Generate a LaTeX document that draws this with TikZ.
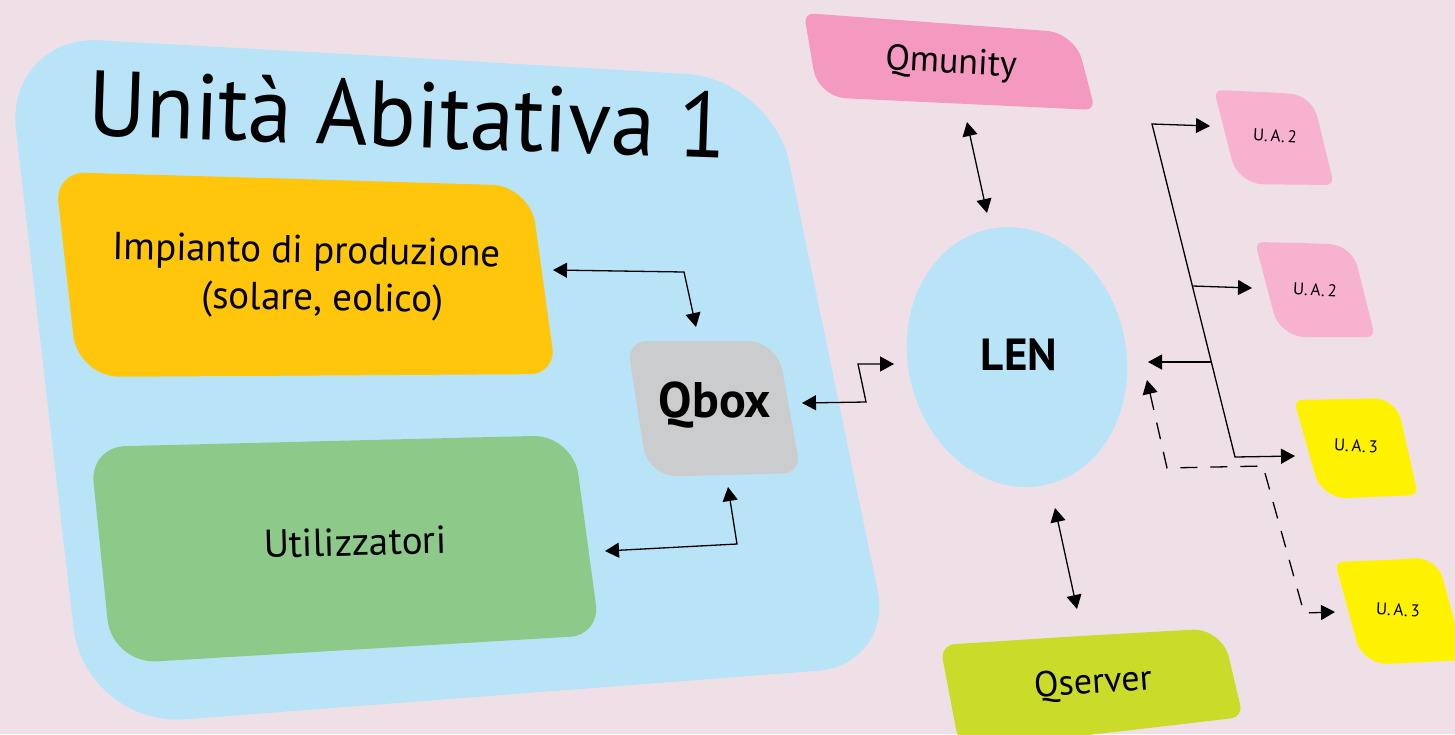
\documentclass[tikz,border=0pt]{standalone}
\usepackage{fontspec}
\setmainfont{PT Sans}
\usetikzlibrary{arrows.meta,shapes.geometric,calc}
\definecolor{bg}{RGB}{239,224,232}
\definecolor{lblue}{RGB}{185,228,247}
\definecolor{orangey}{RGB}{255,198,11}
\definecolor{greenb}{RGB}{141,202,138}
\definecolor{grayb}{RGB}{203,204,206}
\definecolor{pinkq}{RGB}{244,154,193}
\definecolor{pinkua}{RGB}{247,178,208}
\definecolor{yellowua}{RGB}{255,242,0}
\definecolor{limeq}{RGB}{203,219,42}
\begin{document}
\begin{tikzpicture}[x=1pt,y=-1pt,
  conn/.style={line width=1.3pt,{Triangle[length=14pt,width=15pt]}-{Triangle[length=14pt,width=15pt]}},
  oneway/.style={line width=1.3pt,-{Triangle[length=14pt,width=15pt]}},
  dconn/.style={conn,dash pattern=on 17pt off 13pt},
  lbl/.style={inner sep=0pt,text=black},
  ualbl/.style={lbl,font=\fontsize{17}{20}\selectfont,rotate=-3}]
\useasboundingbox (0,0) rectangle (1455,734);
\clip (0,0) rectangle (1455,734);
\fill[bg] (0,0) rectangle (1455,734);

% big box
\fill[lblue] (400,57) [rounded corners=85pt]-- (772,79) [rounded corners=75pt]-- (893,665)
  [rounded corners=100pt]-- (85,727) [rounded corners=95pt]-- (5,35) [sharp corners]-- cycle;
% yellow
\fill[orangey] (300,179) [rounded corners=38pt]-- (530,186) [rounded corners=26pt]-- (556,374)
  [rounded corners=42pt]-- (78,377) [rounded corners=30pt]-- (55,172) [sharp corners]-- cycle;
% green
\fill[greenb] (330,441) [rounded corners=40pt]-- (573,435) [rounded corners=30pt]-- (600,635)
  [rounded corners=45pt]-- (112,664) [rounded corners=35pt]-- (90,447) [sharp corners]-- cycle;
% gray
\fill[grayb] (700,341) [rounded corners=30pt]-- (777,341) [rounded corners=18pt]-- (801,473)
  [rounded corners=30pt]-- (648,477) [rounded corners=20pt]-- (627,341) [sharp corners]-- cycle;
% Qmunity
\fill[pinkq] (940,23) [rounded corners=28pt]-- (1075,33) [rounded corners=10pt]-- (1095,110)
  [rounded corners=28pt]-- (818,97) [rounded corners=10pt]-- (804,13) [sharp corners]-- cycle;
% Qserver
\fill[limeq] (1080,636) [rounded corners=30pt]-- (1222,628) [rounded corners=12pt]-- (1243,717)
  [rounded corners=20pt]-- (960,750) [rounded corners=15pt]-- (940,645) [sharp corners]-- cycle;
% U.A. boxes
\fill[pinkua] (1263,92) [rounded corners=22pt]-- (1312,95) [rounded corners=8pt]-- (1334,185)
  [rounded corners=25pt]-- (1238,184) [rounded corners=8pt]-- (1214,90) [sharp corners]-- cycle;
\fill[pinkua] (1303,243) [rounded corners=22pt]-- (1352,245) [rounded corners=8pt]-- (1375,337)
  [rounded corners=25pt]-- (1280,337) [rounded corners=8pt]-- (1255,242) [sharp corners]-- cycle;
\fill[yellowua] (1345,399) [rounded corners=22pt]-- (1396,398) [rounded corners=8pt]-- (1418,495)
  [rounded corners=25pt]-- (1322,499) [rounded corners=8pt]-- (1294,400) [sharp corners]-- cycle;
\fill[yellowua] (1386,560) [rounded corners=22pt]-- (1437,557) [rounded corners=8pt]-- (1465,660)
  [rounded corners=25pt]-- (1363,665) [rounded corners=8pt]-- (1335,562) [sharp corners]-- cycle;

% LEN ellipse
\node[ellipse,fill=lblue,minimum width=218pt,minimum height=262pt,rotate=13,inner sep=0pt] (lenshape) at (1017,357) {};

% texts
\node[lbl,font=\fontsize{93}{100}\selectfont,xscale=0.955,rotate=-2] (title) at (408,114) {Unità Abitativa 1};
\node[lbl,font=\fontsize{39}{47}\selectfont,align=center,rotate=-1] (impianto) at (306,277) {Impianto di produzione\\\hspace*{34pt}(solare, eolico)};
\node[lbl,font=\fontsize{39}{47}\selectfont,rotate=1.5] (utiliz) at (355,542) {Utilizzatori};
\node[lbl,font=\fontsize{50}{60}\selectfont\bfseries] (qbox) at (715,405) {Qbox};
\node[lbl,font=\fontsize{45}{54}\selectfont\bfseries] (len) at (1019,355) {LEN};
\node[lbl,font=\fontsize{36}{43}\selectfont,rotate=-3] (qmunity) at (951,64) {Qmunity};
\node[lbl,font=\fontsize{36}{43}\selectfont,rotate=4] (qserver) at (1093,684) {Qserver};
\node[ualbl] (ua2a) at (1275,136) {U.\,A.\,2};
\node[ualbl] (ua2b) at (1315,290) {U.\,A.\,2};
\node[ualbl] (ua3a) at (1356,446) {U.\,A.\,3};
\node[ualbl] (ua3b) at (1398,610) {U.\,A.\,3};

% connector end points
\coordinate (impR) at (553,270);
\coordinate (e1) at (684,272);
\coordinate (qboxT) at (696,327);
\coordinate (utilR) at (605,551);
\coordinate (e2) at (737,544);
\coordinate (qboxB) at (728,487);
\coordinate (qboxR) at (802,403);
\coordinate (e3) at (866,402);
\coordinate (e4) at (858,364);
\coordinate (lenL) at (894,364);
\coordinate (qmB) at (967,122);
\coordinate (lenT) at (987,213);
\coordinate (lenB) at (1055,508);
\coordinate (qsT) at (1077,609);
\coordinate (t1) at (1152,124);
\coordinate (t2) at (1235,457);
\coordinate (ua2aL) at (1210,126);
\coordinate (ua3aL) at (1295,456);
\coordinate (b1) at (1192.5,286);
\coordinate (ua2bL) at (1252,288);
\coordinate (b2) at (1211,362);
\coordinate (lenR) at (1148,362);
\coordinate (lenR2) at (1147,380);
\coordinate (d1) at (1167,468);
\coordinate (d2) at (1263,466);
\coordinate (d3) at (1304,613);
\coordinate (ua3bL) at (1335,612);

% connectors
\draw[conn] (impR) -- (e1) -- (qboxT);
\draw[conn] (utilR) -- (e2) -- (qboxB);
\draw[conn] (qboxR) -- (e3) -- (e4) -- (lenL);
\draw[conn] (qmB) -- (lenT);
\draw[conn] (lenB) -- (qsT);
\draw[conn] (ua2aL) -- (t1) -- (t2) -- (ua3aL);
\draw[oneway] (b1) -- (ua2bL);
\draw[oneway] (b2) -- (lenR);
\draw[dconn] (lenR2) -- (d1) -- (d2) -- (d3) -- (ua3bL);
\end{tikzpicture}
\end{document}
